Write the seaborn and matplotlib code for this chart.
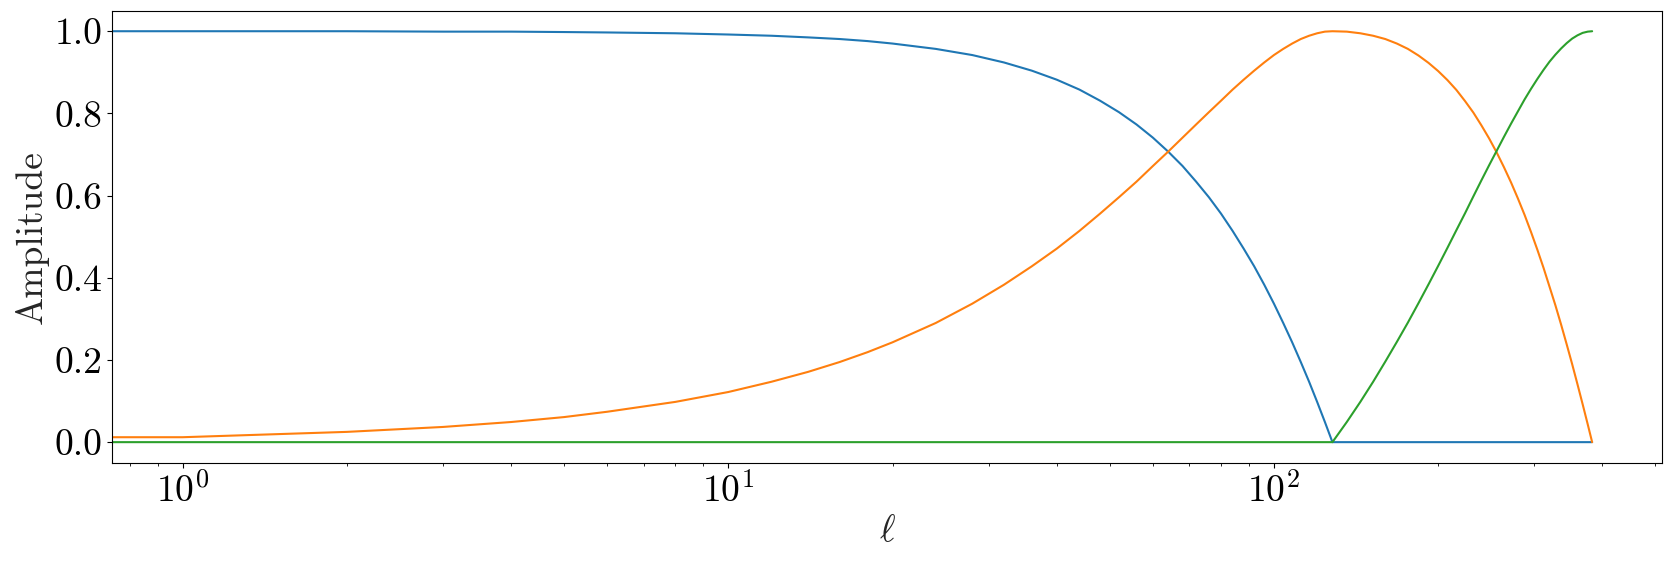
import matplotlib
matplotlib.use("Agg")
import matplotlib.pyplot as plt
import seaborn as sns
import pandas as pd

ell = [0, 1, 2, 3, 4, 5, 6, 8, 10, 12,
       14, 16, 18, 20, 24, 28, 32, 36, 40, 44,
       48, 52, 56, 60, 64, 68, 72, 76, 80, 84,
       88, 92, 96, 100, 104, 108, 112, 116, 120, 124,
       128, 136, 144, 152, 160, 168, 176, 184, 192, 200,
       208, 216, 224, 232, 240, 248, 256, 264, 272, 280,
       288, 296, 304, 312, 320, 328, 336, 344, 352, 360,
       368, 376, 383]

band_low = [1.000, 1.000, 1.000, 0.999, 0.999, 0.998, 0.997, 0.995, 0.992, 0.989,
            0.985, 0.981, 0.976, 0.970, 0.957, 0.942, 0.924, 0.904, 0.882, 0.858,
            0.831, 0.803, 0.773, 0.741, 0.707, 0.672, 0.634, 0.596, 0.556, 0.514,
            0.471, 0.428, 0.383, 0.337, 0.290, 0.243, 0.195, 0.147, 0.098, 0.049,
            0.000, 0.000, 0.000, 0.000, 0.000, 0.000, 0.000, 0.000, 0.000, 0.000,
            0.000, 0.000, 0.000, 0.000, 0.000, 0.000, 0.000, 0.000, 0.000, 0.000,
            0.000, 0.000, 0.000, 0.000, 0.000, 0.000, 0.000, 0.000, 0.000, 0.000,
            0.000, 0.000, 0.000]

band_mid = [0.000, 0.012, 0.025, 0.037, 0.049, 0.061, 0.074, 0.098, 0.122, 0.147,
            0.171, 0.195, 0.219, 0.243, 0.290, 0.337, 0.383, 0.428, 0.471, 0.514,
            0.556, 0.596, 0.634, 0.672, 0.707, 0.741, 0.773, 0.803, 0.831, 0.858,
            0.882, 0.904, 0.924, 0.942, 0.957, 0.970, 0.981, 0.989, 0.995, 0.999,
            1.000, 0.999, 0.995, 0.989, 0.981, 0.970, 0.957, 0.941, 0.923, 0.903,
            0.881, 0.857, 0.830, 0.802, 0.771, 0.739, 0.705, 0.669, 0.632, 0.593,
            0.553, 0.511, 0.468, 0.424, 0.378, 0.333, 0.286, 0.238, 0.190, 0.141,
            0.092, 0.043, 0.000]

band_high = [0.000, 0.000, 0.000, 0.000, 0.000, 0.000, 0.000, 0.000, 0.000, 0.000,
             0.000, 0.000, 0.000, 0.000, 0.000, 0.000, 0.000, 0.000, 0.000, 0.000,
             0.000, 0.000, 0.000, 0.000, 0.000, 0.000, 0.000, 0.000, 0.000, 0.000,
             0.000, 0.000, 0.000, 0.000, 0.000, 0.000, 0.000, 0.000, 0.000, 0.000,
             0.000, 0.049, 0.098, 0.147, 0.196, 0.244, 0.291, 0.338, 0.384, 0.429,
             0.473, 0.516, 0.557, 0.598, 0.637, 0.674, 0.709, 0.743, 0.775, 0.805,
             0.834, 0.860, 0.884, 0.906, 0.926, 0.943, 0.958, 0.971, 0.982, 0.990,
             0.996, 0.999, 1.000]

bands = ["low", "mid", "high"]
ytick_vals = [0.0, 0.2, 0.4, 0.6, 0.8, 1.0]
ytick_labels = ["0.0", "0.2", "0.4", "0.6", "0.8", "1.0"]

df = pd.concat([
    pd.DataFrame({"ell": ell, "amp": band_low, "band": "low"}),
    pd.DataFrame({"ell": ell, "amp": band_mid, "band": "mid"}),
    pd.DataFrame({"ell": ell, "amp": band_high, "band": "high"}),
])

sns.set_style("ticks")
plt.rcParams["font.family"] = ["cmr10", "DejaVu Serif"]
plt.rcParams["mathtext.fontset"] = "cm"
plt.rcParams["axes.formatter.use_mathtext"] = True
plt.rcParams["axes.unicode_minus"] = False
plt.rcParams["axes.edgecolor"] = "black"
plt.rcParams["xtick.color"] = "black"
plt.rcParams["ytick.color"] = "black"

fig, ax = plt.subplots(figsize=(16.71, 5.62), dpi=100)
fig.subplots_adjust(left=0.0672, right=0.9948, top=0.981, bottom=0.1767)

sns.lineplot(data=df, x="ell", y="amp", hue="band", hue_order=bands,
             palette=sns.color_palette("tab10", 3), estimator=None,
             sort=False, legend=False, linewidth=1.5, ax=ax)

ax.set_xscale("log")
ax.set_xlim(0.743, 515)
ax.set_ylim(-0.05, 1.05)
ax.set_yticks(ytick_vals)
ax.set_yticklabels(ytick_labels)
ax.tick_params(labelsize=27)
ax.set_xlabel(r"$\ell$", fontsize=27)
ax.set_ylabel("Amplitude", fontsize=27)

fig.savefig("out.png", dpi=100)
